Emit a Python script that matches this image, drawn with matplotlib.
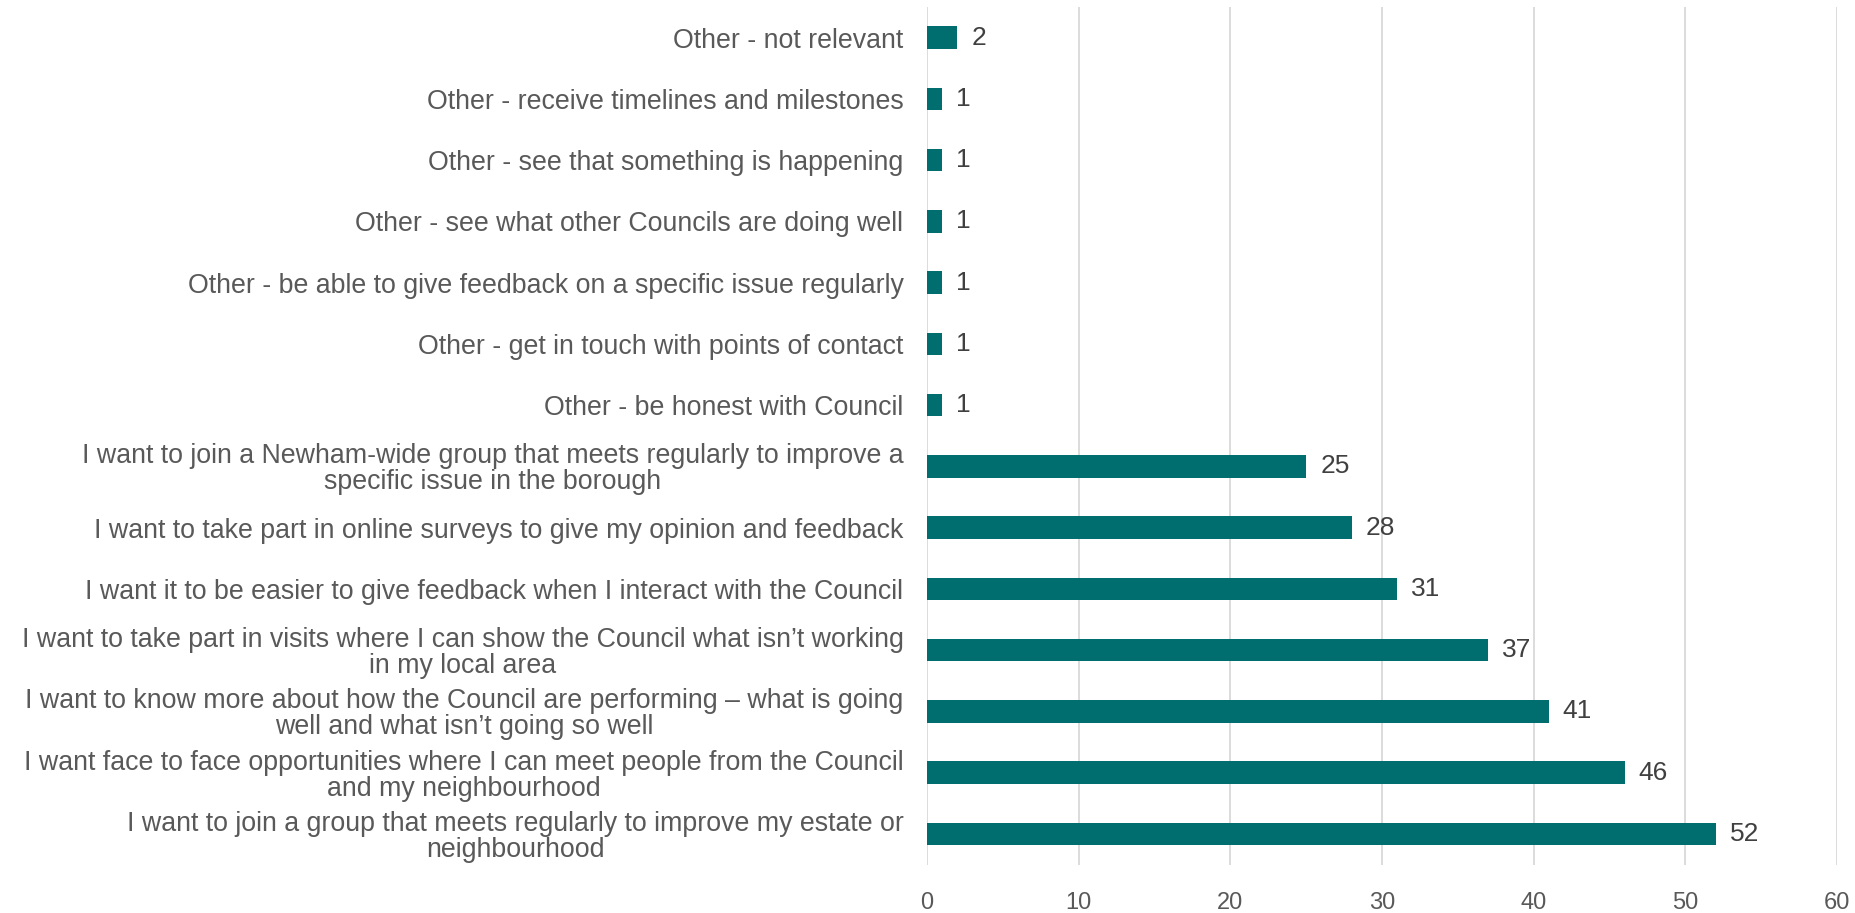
import matplotlib
matplotlib.use("Agg")

import matplotlib.pyplot as plt

# Survey responses: how residents want to be involved (count of mentions)
categories = [
    "Other - not relevant",
    "Other - receive timelines and milestones",
    "Other - see that something is happening",
    "Other - see what other Councils are doing well",
    "Other - be able to give feedback on a specific issue regularly",
    "Other - get in touch with points of contact",
    "Other - be honest with Council",
    "I want to join a Newham-wide group that meets regularly to improve a\nspecific issue in the borough",
    "I want to take part in online surveys to give my opinion and feedback",
    "I want it to be easier to give feedback when I interact with the Council",
    "I want to take part in visits where I can show the Council what isn\u2019t working\nin my local area",
    "I want to know more about how the Council are performing \u2013 what is going\nwell and what isn\u2019t going so well",
    "I want face to face opportunities where I can meet people from the Council\nand my neighbourhood",
    "I want to join a group that meets regularly to improve my estate or\nneighbourhood",
]
counts = [2, 1, 1, 1, 1, 1, 1, 25, 28, 31, 37, 41, 46, 52]
x_ticks = [0, 10, 20, 30, 40, 50, 60]

BAR_COLOR = "#006D6F"
LABEL_COLOR = "#595959"
VALUE_COLOR = "#404040"
GRID_COLOR = "#D9D9D9"

plt.rcParams["font.family"] = ["Liberation Sans", "DejaVu Sans"]

fig = plt.figure(figsize=(18.56, 9.13), dpi=100)
ax = fig.add_axes([0.4995, 0.0531, 0.4903, 0.9392])

pos = list(range(len(categories)))
ax.barh(pos, counts, height=0.37, color=BAR_COLOR, zorder=3)

for y, v in zip(pos, counts):
    ax.annotate(str(v), xy=(v, y), xytext=(10, 0), textcoords="offset points",
                ha="left", va="center", fontsize=19, color=VALUE_COLOR)

ax.set_ylim(len(categories) - 0.5, -0.5)
ax.set_xlim(0, 60)
ax.set_xticks(x_ticks)
ax.set_yticks(pos)
ax.set_yticklabels(categories, fontsize=19.3, color=LABEL_COLOR,
                   multialignment="center", linespacing=1.0)
ax.tick_params(axis="y", length=0, pad=17)
ax.tick_params(axis="x", length=0, pad=20, labelsize=17, labelcolor=LABEL_COLOR)

ax.grid(axis="x", color=GRID_COLOR, lw=1.3, zorder=0)
for side in ("top", "right", "bottom", "left"):
    ax.spines[side].set_visible(False)

fig.savefig("out.png", dpi=100)
